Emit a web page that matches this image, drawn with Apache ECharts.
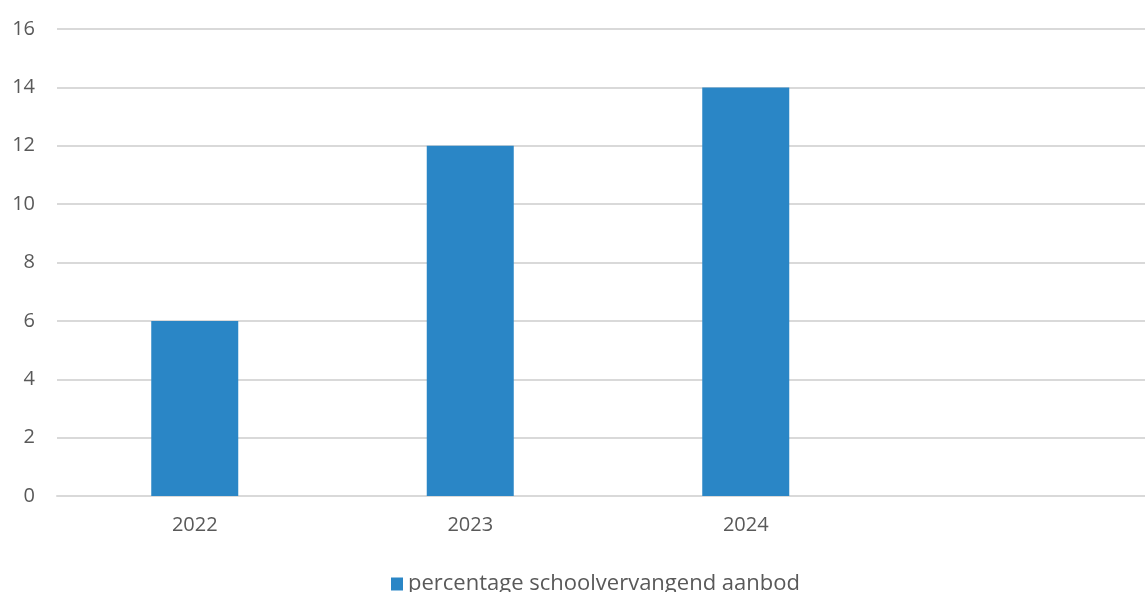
<!DOCTYPE html>
<html>
<head>
<meta charset="utf-8">
<script src="https://cdn.jsdelivr.net/npm/echarts@6/dist/echarts.min.js"></script>
<style>html,body{margin:0;padding:0;background:#fff;}#c{width:1145px;height:592px;}</style>
</head>
<body>
<div id="c"></div>
<script>
const categories = ['2022', '2023', '2024', ''];
const values = [6, 12, 14, null];
const seriesName = 'percentage schoolvervangend aanbod';
const yTicks = { min: 0, max: 16, interval: 2 };

const chart = echarts.init(document.getElementById('c'), null, { renderer: 'canvas' });
chart.setOption({
  animation: false,
  backgroundColor: '#ffffff',
  textStyle: { fontFamily: '"Open Sans", "DejaVu Sans", sans-serif' },
  grid: { left: 57, width: 1102, top: 29, bottom: 96, containLabel: false, outerBoundsMode: 'none' },
  legend: {
    data: [seriesName],
    left: 386, top: 568,
    itemWidth: 12, itemHeight: 13, itemGap: 8,
    icon: 'rect',
    textStyle: { color: '#595959', fontSize: 22, fontFamily: '"Open Sans", sans-serif' }
  },
  xAxis: {
    type: 'category',
    data: categories,
    axisLine: { show: true, lineStyle: { color: '#d9d9d9', width: 2 } },
    axisTick: { show: false },
    axisLabel: { color: '#595959', fontSize: 20, margin: 19 }
  },
  yAxis: {
    type: 'value',
    min: yTicks.min, max: yTicks.max, interval: yTicks.interval,
    axisLine: { show: false },
    axisTick: { show: false },
    axisLabel: { color: '#595959', fontSize: 20, margin: 22 },
    splitLine: { lineStyle: { color: '#d9d9d9', width: 2 } }
  },
  series: [{
    name: seriesName,
    type: 'bar',
    data: values,
    barWidth: 87,
    itemStyle: { color: '#2a86c6' }
  }]
});
</script>
</body>
</html>
